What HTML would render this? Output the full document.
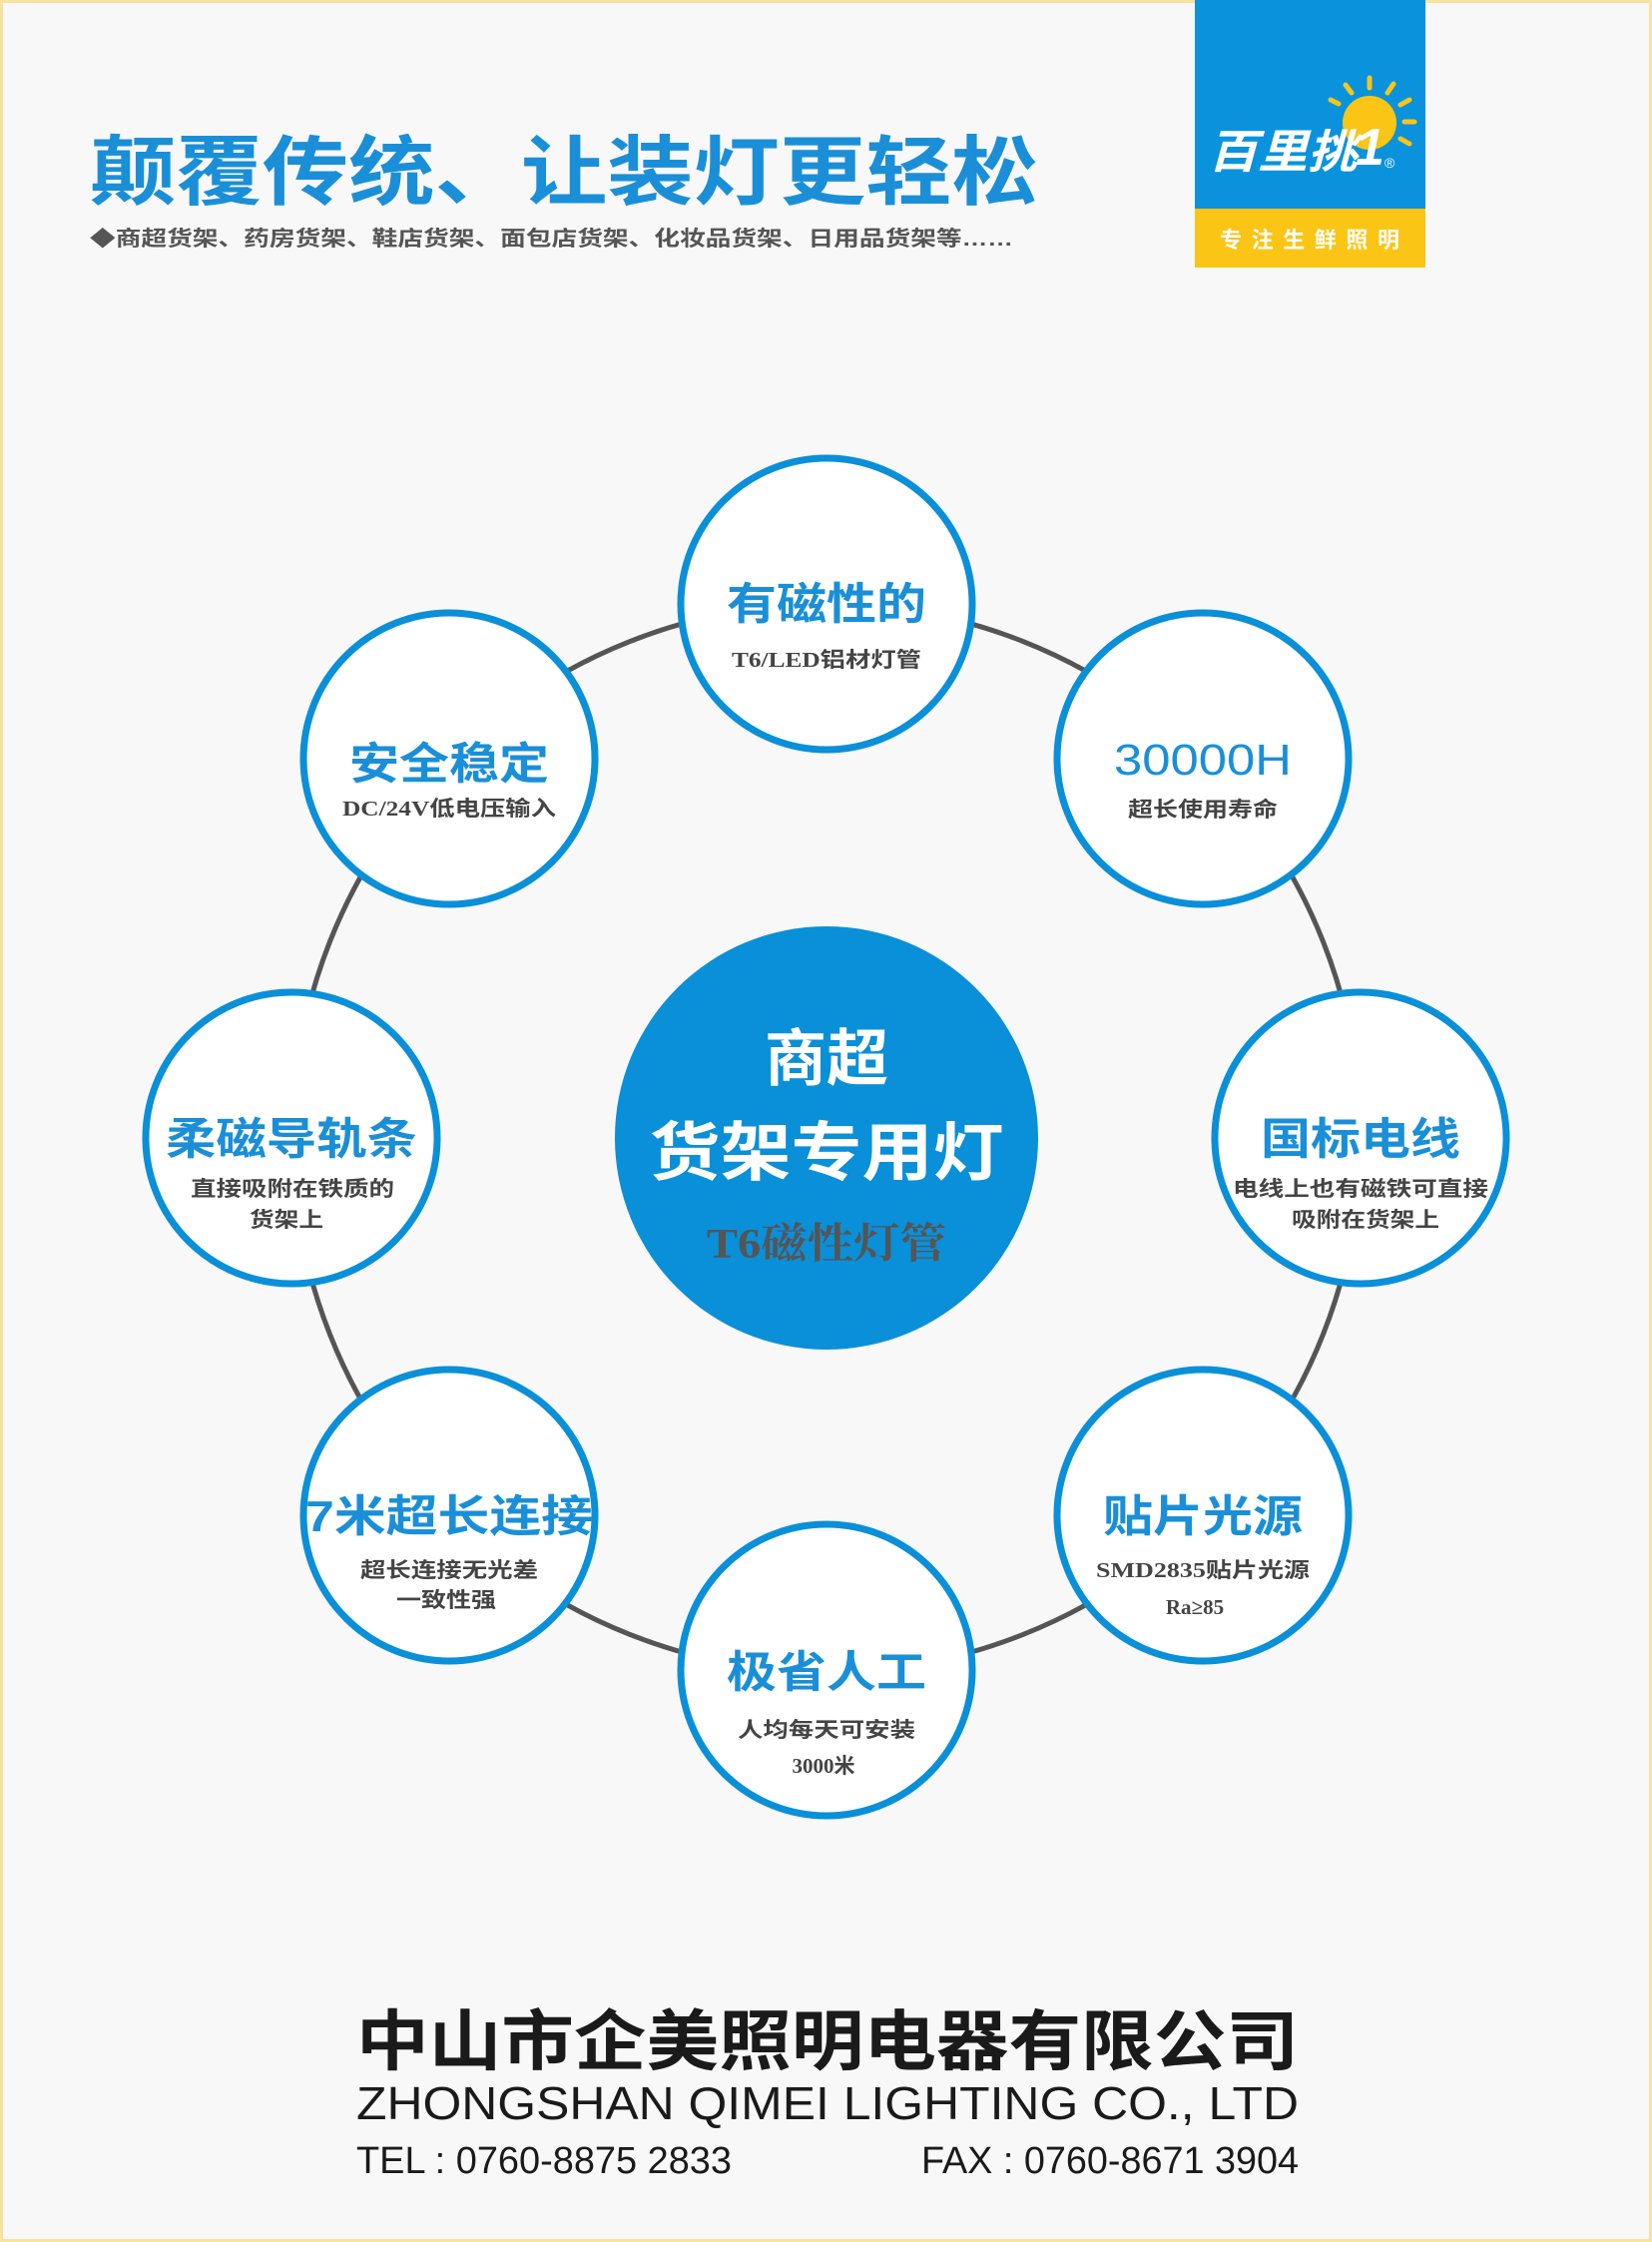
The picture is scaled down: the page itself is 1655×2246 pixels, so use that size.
<!DOCTYPE html>
<html><head><meta charset="utf-8"><style>
html,body{margin:0;padding:0;background:#f8f8f8}
svg{display:block}
</style></head><body>
<svg width="1655" height="2246" viewBox="0 0 1655 2246" xmlns="http://www.w3.org/2000/svg" font-family="'Liberation Sans','Noto Sans CJK SC',sans-serif">
<rect x="1.5" y="1.5" width="1652" height="2243" fill="#f8f8f8" stroke="#f7e3a0" stroke-width="3"/>
<!-- Title -->
<text x="90" y="199" font-size="76" font-weight="bold" fill="#1a8fd8" textLength="950" lengthAdjust="spacingAndGlyphs">颠覆传统、让装灯更轻松</text>
<text x="90" y="246" font-size="21" font-weight="bold" fill="#555" textLength="925" lengthAdjust="spacingAndGlyphs">◆商超货架、药房货架、鞋店货架、面包店货架、化妆品货架、日用品货架等……</text>
<!-- Logo -->
<rect x="1197" y="0" width="231" height="209" fill="#0a93dc"/>
<rect x="1197" y="209" width="231" height="59" fill="#fbc515"/>
<g stroke="#fbc515" stroke-width="5" stroke-linecap="round">
<line x1="1372" y1="88" x2="1372" y2="78"/><line x1="1390" y1="93" x2="1396" y2="84"/><line x1="1403" y1="105" x2="1412" y2="100"/><line x1="1407" y1="122" x2="1417" y2="122"/><line x1="1403" y1="139" x2="1412" y2="144"/><line x1="1354" y1="93" x2="1348" y2="85"/><line x1="1341" y1="104" x2="1333" y2="100"/>
</g>
<circle cx="1372" cy="123" r="27" fill="#fbc515"/>
<text x="1210" y="168" font-size="46" font-weight="bold" font-style="italic" fill="#fff" textLength="150" lengthAdjust="spacingAndGlyphs">百里挑</text>
<text x="1358" y="165" font-size="52" font-weight="bold" font-style="italic" fill="#fff">1</text>
<text x="1387" y="168" font-size="14" fill="#fff">®</text>
<text x="1222" y="248" font-size="22" font-weight="bold" fill="#fff" textLength="180" lengthAdjust="spacing">专注生鲜照明</text>
<!-- Ring -->
<circle cx="828" cy="1140" r="535" fill="none" stroke="#555" stroke-width="5"/>
<!-- Center -->
<circle cx="828" cy="1140" r="212" fill="#0a8fd9"/>
<text x="828" y="1082" font-size="62" font-weight="bold" fill="#fff" text-anchor="middle">商超</text>
<text x="828" y="1177" font-size="64" font-weight="bold" fill="#fff" text-anchor="middle" textLength="355" lengthAdjust="spacingAndGlyphs">货架专用灯</text>
<text x="828" y="1260" font-size="42" font-weight="bold" fill="#555" text-anchor="middle" font-family="'Liberation Serif','Noto Serif CJK SC',serif" textLength="240" lengthAdjust="spacingAndGlyphs">T6磁性灯管</text>
<!-- Small circles -->
<g fill="#fff" stroke="#0a8fd9" stroke-width="7">
<circle cx="828" cy="605" r="146"/>
<circle cx="1205" cy="760" r="146"/>
<circle cx="1363" cy="1140" r="146"/>
<circle cx="1205" cy="1518" r="146"/>
<circle cx="828" cy="1673" r="146"/>
<circle cx="450" cy="1518" r="146"/>
<circle cx="292" cy="1140" r="146"/>
<circle cx="450" cy="760" r="146"/>
</g>
<g text-anchor="middle" font-weight="bold">
<g font-size="44" fill="#1a8fd8">
<text x="828" y="620" textLength="200" lengthAdjust="spacingAndGlyphs">有磁性的</text>
<text x="1205" y="776" font-weight="normal" textLength="178" lengthAdjust="spacingAndGlyphs">30000H</text>
<text x="1363" y="1156" textLength="200" lengthAdjust="spacingAndGlyphs">国标电线</text>
<text x="1205" y="1534" textLength="200" lengthAdjust="spacingAndGlyphs">贴片光源</text>
<text x="828" y="1690" textLength="200" lengthAdjust="spacingAndGlyphs">极省人工</text>
<text x="450" y="1534" textLength="288" lengthAdjust="spacingAndGlyphs">7米超长连接</text>
<text x="292" y="1156" textLength="252" lengthAdjust="spacingAndGlyphs">柔磁导轨条</text>
<text x="450" y="780" textLength="200" lengthAdjust="spacingAndGlyphs">安全稳定</text>
</g>
<g font-size="21" fill="#444" font-family="'Liberation Serif','Noto Sans CJK SC',serif">
<text x="828" y="668" textLength="190" lengthAdjust="spacingAndGlyphs">T6/LED铝材灯管</text>
<text x="1205" y="818" textLength="150" lengthAdjust="spacingAndGlyphs">超长使用寿命</text>
<text x="1363" y="1198" textLength="256" lengthAdjust="spacingAndGlyphs">电线上也有磁铁可直接</text>
<text x="1368" y="1229" textLength="148" lengthAdjust="spacingAndGlyphs">吸附在货架上</text>
<text x="1205" y="1580" textLength="214" lengthAdjust="spacingAndGlyphs">SMD2835贴片光源</text>
<text x="1197" y="1617">Ra≥85</text>
<text x="828" y="1740" textLength="178" lengthAdjust="spacingAndGlyphs">人均每天可安装</text>
<text x="825" y="1776">3000米</text>
<text x="450" y="1580" textLength="178" lengthAdjust="spacingAndGlyphs">超长连接无光差</text>
<text x="447" y="1610" textLength="100" lengthAdjust="spacingAndGlyphs">一致性强</text>
<text x="293" y="1198" textLength="204" lengthAdjust="spacingAndGlyphs">直接吸附在铁质的</text>
<text x="287" y="1229" textLength="74" lengthAdjust="spacingAndGlyphs">货架上</text>
<text x="450" y="817" textLength="214" lengthAdjust="spacingAndGlyphs">DC/24V低电压输入</text>
</g>
</g>
<!-- Footer -->
<text x="357" y="2068" font-size="66" font-weight="bold" fill="#1a1a1a" textLength="944" lengthAdjust="spacingAndGlyphs">中山市企美照明电器有限公司</text>
<text x="357" y="2123" font-size="46" fill="#1a1a1a" textLength="944" lengthAdjust="spacingAndGlyphs">ZHONGSHAN QIMEI LIGHTING CO., LTD</text>
<text x="357" y="2177" font-size="38" fill="#1a1a1a" textLength="376" lengthAdjust="spacingAndGlyphs">TEL : 0760-8875  2833</text>
<text x="923" y="2177" font-size="38" fill="#1a1a1a" textLength="378" lengthAdjust="spacingAndGlyphs">FAX : 0760-8671  3904</text>
</svg>
</body></html>
